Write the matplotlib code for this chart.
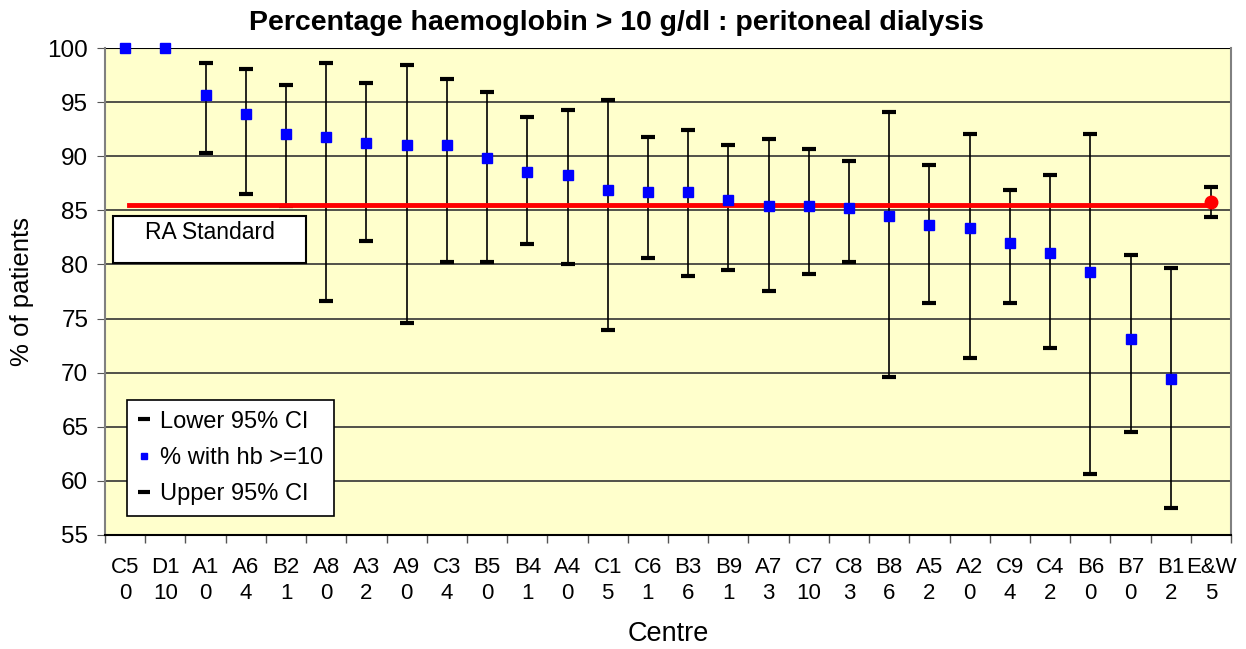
import numpy as np
import matplotlib
matplotlib.use('Agg')
import matplotlib.pyplot as plt
from matplotlib.lines import Line2D
from matplotlib.patches import Rectangle

plt.rcParams['font.family'] = ['Liberation Sans', 'DejaVu Sans']

centres = ['C5', 'D1', 'A1', 'A6', 'B2', 'A8', 'A3', 'A9', 'C3', 'B5', 'B4', 'A4', 'C1', 'C6',
           'B3', 'B9', 'A7', 'C7', 'C8', 'B8', 'A5', 'A2', 'C9', 'C4', 'B6', 'B7', 'B1', 'E&W']
counts = ['0', '10', '0', '4', '1', '0', '2', '0', '4', '0', '1', '0', '5', '1',
          '6', '1', '3', '10', '3', '6', '2', '0', '4', '2', '0', '0', '2', '5']
pct = [100, 100, 95.7, 93.9, 92.1, 91.8, 91.2, 91.0, 91.0, 89.8, 88.5, 88.3, 86.9, 86.7,
       86.7, 86.0, 85.4, 85.4, 85.2, 84.5, 83.6, 83.4, 82.0, 81.1, 79.3, 73.1, 69.4, 85.8]
lower = [np.nan, np.nan, 90.3, 86.5, 85.4, 76.6, 82.2, 74.6, 80.2, 80.2, 81.9, 80.0, 73.9, 80.6,
         78.9, 79.5, 77.5, 79.1, 80.2, 69.6, 76.4, 71.4, 76.4, 72.3, 60.6, 64.5, 57.5, 84.4]
upper = [np.nan, np.nan, 98.6, 98.1, 96.6, 98.6, 96.8, 98.4, 97.1, 95.9, 93.6, 94.3, 95.2, 91.8,
         92.4, 91.0, 91.6, 90.7, 89.6, 94.1, 89.2, 92.1, 86.9, 88.3, 92.1, 80.9, 79.7, 87.2]
ra_standard = 85.5

x = np.arange(len(centres))
pct = np.array(pct)
lower = np.array(lower)
upper = np.array(upper)

fig = plt.figure(figsize=(12.46, 6.49), dpi=100)
ax = fig.add_axes([0.0843, 0.1757, 0.9037, 0.7503])
ax.set_facecolor('#FFFFCC')

ax.set_xlim(-0.5, len(centres) - 0.5)
ax.set_ylim(55, 100)
ax.set_yticks(np.arange(55, 101, 5))
for yv in np.arange(60, 100, 5):
    ax.axhline(yv, color='#333333', lw=1.2, zorder=1)
ax.axhline(100, color='black', lw=1.5, zorder=1)

# error bars
ax.vlines(x, lower, upper, color='black', lw=1.2, zorder=3)
ax.plot(x, lower, ls='none', marker='_', ms=10, mew=3, color='black', zorder=4)
ax.plot(x, upper, ls='none', marker='_', ms=10, mew=3, color='black', zorder=4)

# RA standard line
ax.plot([0.1, len(centres) - 1], [ra_standard, ra_standard], color='#FF0000', lw=3.5, zorder=5)

ax.plot(x[:-1], pct[:-1], ls='none', marker='s', ms=6.5, color='#0000FF', zorder=6, clip_on=False)
ax.plot(x[-1:], pct[-1:], ls='none', marker='o', ms=9, color='#FF0000', zorder=6)

ax.set_xticks(x)
ax.set_xticklabels([c + '\n' + n for c, n in zip(centres, counts)], fontsize=16, linespacing=1.3)
ax.set_xticks(np.arange(-0.5, len(centres), 1), minor=True)
ax.tick_params(axis='x', which='major', length=0, pad=16)
ax.tick_params(axis='x', which='minor', length=6, width=1, color='#555555')
ax.tick_params(axis='y', labelsize=17.5, length=6, color='#555555', pad=6)

for s in ['left', 'right']:
    ax.spines[s].set_color('#808080')
    ax.spines[s].set_linewidth(1.5)
ax.spines['bottom'].set_color('black')
ax.spines['bottom'].set_linewidth(1.5)
ax.spines['top'].set_visible(False)

ax.set_xlabel('Centre', fontsize=19.5, labelpad=12)
ax.set_ylabel('% of patients', fontsize=18.5, labelpad=10)
fig.text(0.495, 0.964, 'Percentage haemoglobin > 10 g/dl : peritoneal dialysis',
         ha='center', va='center', fontsize=20.5, fontweight='bold')

# RA Standard box
ax.add_patch(Rectangle((0.0071, 0.5585), 0.1714, 0.0965, transform=ax.transAxes,
                       facecolor='white', edgecolor='black', lw=1.5, zorder=7))
ax.text(0.0928, 0.622, 'RA Standard', transform=ax.transAxes, ha='center', va='center',
        fontsize=16.5, zorder=8)

handles = [
    Line2D([], [], ls='none', marker='_', ms=8, mew=3, color='black'),
    Line2D([], [], ls='none', marker='s', ms=5, color='#0000FF'),
    Line2D([], [], ls='none', marker='_', ms=8, mew=3, color='black'),
]
leg = ax.legend(handles, ['Lower 95% CI', '% with hb >=10', 'Upper 95% CI'],
                loc='upper left', bbox_to_anchor=(0.0195, 0.277), fontsize=17,
                fancybox=False, framealpha=1, edgecolor='black', handlelength=0.5,
                handletextpad=0.45, labelspacing=0.6, borderpad=0.45, borderaxespad=0)
leg.get_frame().set_linewidth(1.2)

fig.savefig('out.png', dpi=100)
